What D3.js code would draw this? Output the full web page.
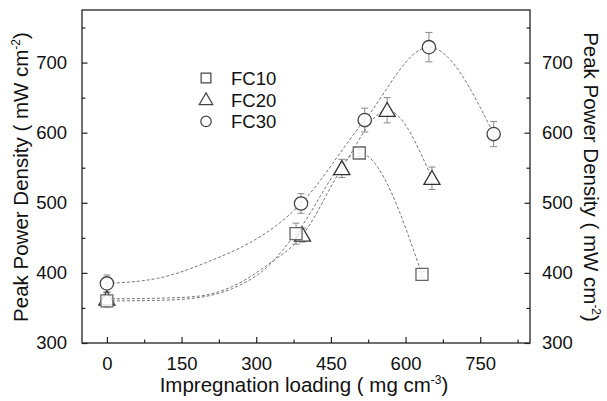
<!DOCTYPE html>
<html><head><meta charset="utf-8">
<script src="https://cdn.jsdelivr.net/npm/d3@7"></script>
<style>body{margin:0;background:#fff}svg{display:block}text{font-family:"Liberation Sans",Arial,sans-serif;fill:#111}</style>
</head><body><svg id="c" width="607" height="401"></svg>
<script>
// Data
const seriesNames = ["FC10", "FC20", "FC30"];
const fc10X = [0, 380, 507, 633];
const fc10Y = [360, 456, 571, 398];
const fc10E = [9, 15, 5, 4];
const fc20X = [0, 393, 472, 563, 653];
const fc20Y = [363, 454, 549, 632, 535];
const fc20E = [9, 10, 13, 18, 16];
const fc30X = [0, 390, 518, 647, 777];
const fc30Y = [385, 499, 618, 722, 598];
const fc30E = [12, 14, 17, 21, 18];
// dashed guide curves
const fit10X = [0, 110, 186, 253, 320, 380, 507, 633];
const fit10Y = [360, 361, 365, 378, 407, 456, 571, 398];
const fit20X = [0, 110, 186, 253, 320, 393, 472, 563, 653];
const fit20Y = [363, 364, 367, 381, 410, 454, 549, 632, 535];
const fit30X = [0, 100, 186, 390, 518, 647, 777];
const fit30Y = [385, 392, 411, 499, 618, 722, 598];
const xTicks = [0, 150, 300, 450, 600, 750];
const yTicks = [300, 400, 500, 600, 700];

const svg = d3.select("#c");
const L = 82, R = 530, T = 10, B = 343;
const x = d3.scaleLinear().domain([-50, 850]).range([L, R]);
const y = d3.scaleLinear().domain([300, 775]).range([B, T]);

const axisColor = "#222";
svg.append("rect").attr("x", L).attr("y", T).attr("width", R - L).attr("height", B - T)
  .attr("fill", "none").attr("stroke", axisColor).attr("stroke-width", 1.3);

const xMinor = d3.range(-75, 851, 75).filter(v => v > -50 && v < 850 && xTicks.indexOf(v) < 0);
const yMinor = d3.range(350, 776, 100);
const gx = svg.append("g").attr("transform", `translate(0,${B})`)
  .call(d3.axisBottom(x).tickValues(xTicks).tickSize(-6).tickPadding(14).tickFormat(d3.format("d")));
const gxm = svg.append("g").attr("transform", `translate(0,${B})`)
  .call(d3.axisBottom(x).tickValues(xMinor).tickSize(-3.5).tickFormat(""));
const gy = svg.append("g").attr("transform", `translate(${L},0)`)
  .call(d3.axisLeft(y).tickValues(yTicks).tickSize(-5.5).tickPadding(15).tickFormat(d3.format("d")));
const gym = svg.append("g").attr("transform", `translate(${L},0)`)
  .call(d3.axisLeft(y).tickValues(yMinor).tickSize(-3.5).tickFormat(""));
const gy2 = svg.append("g").attr("transform", `translate(${R},0)`)
  .call(d3.axisRight(y).tickValues(yTicks).tickSize(-5.5).tickPadding(12).tickFormat(d3.format("d")));
const gy2m = svg.append("g").attr("transform", `translate(${R},0)`)
  .call(d3.axisRight(y).tickValues(yMinor).tickSize(-3.5).tickFormat(""));
[gx, gxm, gy, gym, gy2, gy2m].forEach(g => {
  g.select(".domain").remove();
  g.selectAll(".tick line").attr("stroke", axisColor).attr("stroke-width", 1.2);
  g.selectAll(".tick text").attr("font-size", 18.5).attr("fill", "#111")
    .attr("font-family", '"Liberation Sans",Arial,sans-serif');
});

const line = d3.line().x(d => x(d[0])).y(d => y(d[1])).curve(d3.curveMonotoneX);
[[fit10X, fit10Y], [fit20X, fit20Y], [fit30X, fit30Y]].forEach(([xs, ys]) => {
  svg.append("path").datum(xs.map((v, i) => [v, ys[i]]))
    .attr("d", line).attr("fill", "none").attr("stroke", "#777")
    .attr("stroke-width", 1).attr("stroke-dasharray", "3,2");
});

function errBars(xs, ys, es) {
  const g = svg.append("g").attr("stroke", "#888").attr("stroke-width", 1);
  xs.forEach((v, i) => {
    const cx = x(v), y1 = y(ys[i] + es[i]), y2 = y(ys[i] - es[i]);
    g.append("line").attr("x1", cx).attr("x2", cx).attr("y1", y1).attr("y2", y2);
    g.append("line").attr("x1", cx - 3.5).attr("x2", cx + 3.5).attr("y1", y1).attr("y2", y1);
    g.append("line").attr("x1", cx - 3.5).attr("x2", cx + 3.5).attr("y1", y2).attr("y2", y2);
  });
}
errBars(fc20X, fc20Y, fc20E);
errBars(fc10X, fc10Y, fc10E);
errBars(fc30X, fc30Y, fc30E);

const sym = {
  FC10: d3.symbol().type(d3.symbolSquare).size(144),
  FC20: d3.symbol().type(d3.symbolTriangle).size(112),
  FC30: d3.symbol().type(d3.symbolCircle).size(140)
};
const symL = {
  FC10: d3.symbol().type(d3.symbolSquare).size(95),
  FC20: d3.symbol().type(d3.symbolTriangle).size(80),
  FC30: d3.symbol().type(d3.symbolCircle).size(85)
};
const strokeC = { FC10: "#666", FC20: "#333", FC30: "#444" };
function markers(name, xs, ys) {
  xs.forEach((v, i) => {
    svg.append("path").attr("d", sym[name]())
      .attr("transform", `translate(${x(v)},${y(ys[i]) + (name === "FC20" ? 1.5 : 0)})`)
      .attr("fill", "#fff").attr("fill-opacity", 0.85).attr("stroke", strokeC[name]).attr("stroke-width", 1.3);
  });
}
markers("FC20", fc20X, fc20Y);
markers("FC10", fc10X, fc10Y);
markers("FC30", fc30X, fc30Y);

seriesNames.forEach((n, i) => {
  const ly = 78 + i * 21.7;
  svg.append("path").attr("d", symL[n]()).attr("transform", `translate(206,${ly + (n === "FC20" ? 1 : 0)})`)
    .attr("fill", "#fff").attr("stroke", "#444").attr("stroke-width", 1.2);
  svg.append("text").attr("x", 231).attr("y", ly + 6.8).attr("font-size", 18.5).text(n);
});

function unitTitle(t, main, unit, sup) {
  t.append("tspan").text(main + " ( " + unit);
  t.append("tspan").attr("dy", -8).attr("font-size", 12).text(sup);
  t.append("tspan").attr("dy", 8).text(")");
}
const tx = svg.append("text").attr("x", 304).attr("y", 392).attr("text-anchor", "middle").attr("font-size", 20.5);
unitTitle(tx, "Impregnation loading", "mg cm", "-3");
const tl = svg.append("text").attr("transform", "translate(28,177) rotate(-90)").attr("text-anchor", "middle").attr("font-size", 20.5);
unitTitle(tl, "Peak Power Density", "mW cm", "-2");
const tr = svg.append("text").attr("transform", "translate(584,177) rotate(90)").attr("text-anchor", "middle").attr("font-size", 20.5);
unitTitle(tr, "Peak Power Density", "mW cm", "-2");
</script></body></html>
